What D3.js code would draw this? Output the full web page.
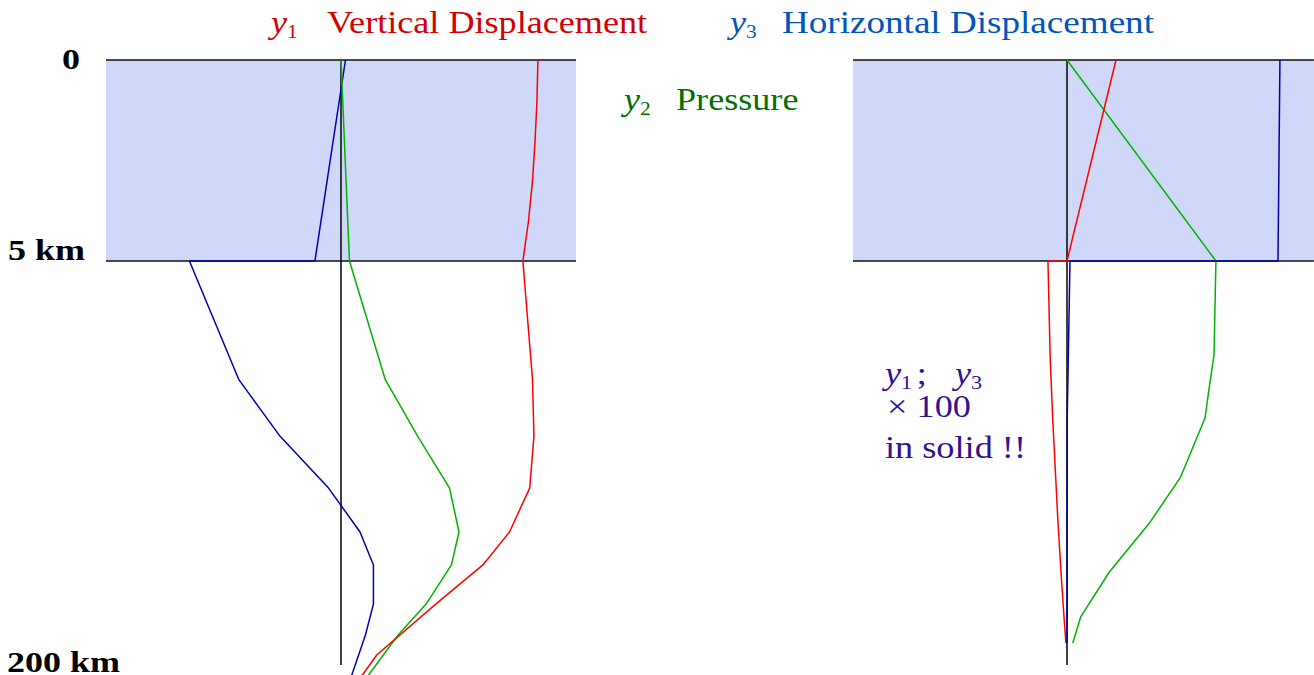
<!DOCTYPE html>
<html>
<head>
<meta charset="utf-8">
<script src="https://cdn.jsdelivr.net/npm/d3@7"></script>
<style>
    body { margin: 0; background: #fff; }
    svg { display: block; }
    text { font-family: 'Liberation Serif', 'DejaVu Serif', serif; }
</style>
</head>
<body>
<div id="chart"></div>
<script>
// depth in km, displacements/pressure in relative units (0 = vertical axis)
var depthTicks = [0, 5, 200]
var depthLabels = ['0', '5 km', '200 km']

var leftRedDepth = [0, 1, 2, 3, 4, 5, 62.4, 89.5, 114.6, 135.8, 151.7, 170.6, 195.2, 205.8]
var leftRed = [0.838, 0.834, 0.826, 0.815, 0.798, 0.774, 0.815, 0.821, 0.803, 0.717, 0.604, 0.403, 0.152, 0.085]

var leftGreenDepth = [0, 5, 62.4, 89.9, 114.6, 135.8, 151.7, 170.6, 185.5, 205.8]
var leftGreen = [0, 0.036, 0.189, 0.328, 0.462, 0.502, 0.470, 0.362, 0.243, 0.111]

var leftBlueDepth = [0, 5, 5, 62.4, 89.5, 114.6, 135.8, 151.7, 170.6, 185.5, 205.8]
var leftBlue = [0.019, -0.111, -0.645, -0.434, -0.260, -0.053, 0.081, 0.138, 0.138, 0.104, 0.043]

var rightRedDepth = [0, 5, 5, 50.4, 80.8, 131.5, 155.1, 176.8, 189.4]
var rightRed = [0.229, 0, -0.089, -0.079, -0.067, -0.042, -0.028, -0.014, -0.005]

var rightGreenDepth = [0, 5, 50.4, 65.8, 80.8, 109.3, 131.5, 155.1, 176.8, 189.4]
var rightGreen = [0, 0.696, 0.687, 0.665, 0.645, 0.531, 0.385, 0.198, 0.064, 0.027]

var rightBlueDepth = [0, 5, 5, 80.8, 189.4]
var rightBlue = [0.995, 0.986, 0.014, 0.001, 0]

var width = 1314
var height = 675

var red = '#ff0000', green = '#00b400', blue = '#0000b0'

var svg = d3.select('#chart').append('svg')
    .attr('width', width)
    .attr('height', height)

// depth: shallow layer 0-5 km gets its own stretch
var y = d3.scaleLinear().domain([0, 5, 200]).range([60, 261, 665])

var panels = [
    { x: d3.scaleLinear().domain([-1, 1]).range([106, 576]), ext: [-1, 1],
      series: [[leftBlueDepth, leftBlue, blue], [leftGreenDepth, leftGreen, green], [leftRedDepth, leftRed, red]] },
    { x: d3.scaleLinear().domain([-1, 1]).range([853, 1281]), ext: [-1, 1.154],
      series: [[rightGreenDepth, rightGreen, green], [rightRedDepth, rightRed, red], [rightBlueDepth, rightBlue, blue]] }
]

panels.forEach(function(p) {
    var g = svg.append('g')

    g.append('rect')
        .attr('x', p.x(p.ext[0]))
        .attr('y', y(0))
        .attr('width', p.x(p.ext[1]) - p.x(p.ext[0]))
        .attr('height', y(5) - y(0))
        .attr('fill', '#d0d8fa')

    g.selectAll('.border').data([0, 5]).enter().append('line')
        .attr('x1', p.x(p.ext[0]))
        .attr('x2', p.x(p.ext[1]))
        .attr('y1', function(d) { return y(d) })
        .attr('y2', function(d) { return y(d) })
        .attr('stroke', '#111')
        .attr('stroke-width', 1.6)

    g.append('line')
        .attr('x1', p.x(0)).attr('x2', p.x(0))
        .attr('y1', y(0)).attr('y2', y(200))
        .attr('stroke', '#111')
        .attr('stroke-width', 1.6)

    var line = d3.line()
        .x(function(d) { return p.x(d[1]) })
        .y(function(d) { return y(d[0]) })

    p.series.forEach(function(s) {
        g.append('path')
            .datum(d3.zip(s[0], s[1]))
            .attr('d', line)
            .attr('fill', 'none')
            .attr('stroke', s[2])
            .attr('stroke-width', 1.5)
            .attr('stroke-linejoin', 'round')
    })
})

// the original figure is stretched sideways, so text gets a horizontal scale
function stretched(x, yy, parts, color, size, sx) {
    var t = svg.append('text')
        .attr('transform', 'translate(' + x + ',' + yy + ') scale(' + sx + ',1)')
        .attr('fill', color)
        .attr('font-size', size)
    parts.forEach(function(pt) {
        var ts = t.append('tspan').text(pt.t)
        if (pt.italic) ts.attr('font-style', 'italic')
        if (pt.bold) ts.attr('font-weight', 'bold')
        if (pt.size) ts.attr('font-size', pt.size)
        if (pt.dy) ts.attr('dy', pt.dy)
        if (pt.dx) ts.attr('dx', pt.dx)
    })
    return t
}

// depth labels
var labelX = [62, 8, 7]
var labelDy = [9, -1, 7]
depthTicks.forEach(function(d, i) {
    stretched(labelX[i], y(d) + labelDy[i], [{ t: depthLabels[i], bold: true }], '#000', 30, 1.2)
})

// legend titles
stretched(271, 33, [{ t: 'y', italic: true }, { t: '1', size: 19, dy: 5 }], '#d20000', 32, 1.13)
stretched(327, 33, [{ t: 'Vertical Displacement' }], '#d20000', 32, 1.13)
stretched(730, 33, [{ t: 'y', italic: true }, { t: '3', size: 19, dy: 5 }], '#0055bb', 32, 1.13)
stretched(782, 33, [{ t: 'Horizontal Displacement' }], '#0055bb', 32, 1.16)
stretched(624, 110, [{ t: 'y', italic: true }, { t: '2', size: 19, dy: 5 }], '#007000', 32, 1.13)
stretched(676, 110, [{ t: 'Pressure' }], '#007000', 32, 1.13)

// note in the right panel
var note = '#351093'
stretched(885, 384, [{ t: 'y', italic: true }, { t: '1', size: 19, dy: 5 }, { t: ';', dy: -5, dx: 4 }], note, 31, 1.17)
stretched(955, 384, [{ t: 'y', italic: true }, { t: '3', size: 19, dy: 5 }], note, 31, 1.17)
stretched(887, 417, [{ t: '\u00d7 100' }], note, 31, 1.17)
stretched(885, 458, [{ t: 'in solid !!' }], note, 31, 1.17)
</script>
</body>
</html>
